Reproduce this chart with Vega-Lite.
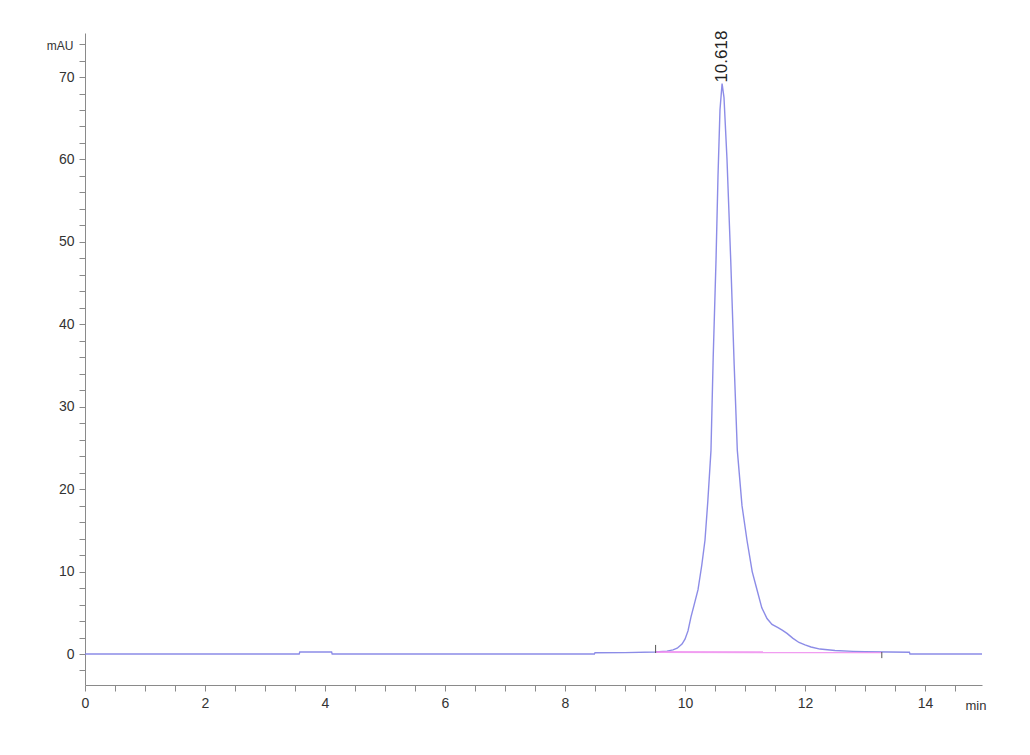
{
  "$schema": "https://vega.github.io/schema/vega-lite/v6.json",
  "width": 897,
  "height": 652,
  "autosize": {"type": "none"},
  "padding": {"left": 85, "top": 33, "right": 48, "bottom": 70},
  "background": "white",
  "config": {
    "view": {"stroke": null},
    "font": "Liberation Sans",
    "axis": {
      "domainColor": "#8a8a8a",
      "tickColor": "#8a8a8a",
      "labelColor": "#333333",
      "labelFont": "Liberation Sans",
      "labelFontSize": 14,
      "titleFont": "Liberation Sans",
      "titleFontWeight": "normal",
      "titleColor": "#333333",
      "grid": false
    }
  },
  "datasets": {
    "trace": [
      {"t": 0, "v": 0}, {"t": 3.57, "v": 0}, {"t": 3.58, "v": 0.25}, {"t": 4.11, "v": 0.25}, {"t": 4.12, "v": 0},
      {"t": 8.49, "v": 0}, {"t": 8.5, "v": 0.15}, {"t": 9.0, "v": 0.17}, {"t": 9.5, "v": 0.25},
      {"t": 9.7, "v": 0.35}, {"t": 9.8, "v": 0.5}, {"t": 9.87, "v": 0.7}, {"t": 9.95, "v": 1.2},
      {"t": 10.0, "v": 1.8}, {"t": 10.05, "v": 2.8}, {"t": 10.1, "v": 4.5}, {"t": 10.15, "v": 5.9},
      {"t": 10.217, "v": 7.8}, {"t": 10.28, "v": 10.8}, {"t": 10.333, "v": 13.8}, {"t": 10.38, "v": 18.5},
      {"t": 10.433, "v": 24.7}, {"t": 10.47, "v": 36}, {"t": 10.517, "v": 47.8}, {"t": 10.55, "v": 58},
      {"t": 10.583, "v": 66}, {"t": 10.618, "v": 69.2}, {"t": 10.65, "v": 67.5}, {"t": 10.7, "v": 60},
      {"t": 10.762, "v": 47.8}, {"t": 10.82, "v": 35}, {"t": 10.872, "v": 24.7}, {"t": 10.95, "v": 18},
      {"t": 11.033, "v": 13.8}, {"t": 11.12, "v": 10}, {"t": 11.2, "v": 7.8}, {"t": 11.28, "v": 5.6},
      {"t": 11.367, "v": 4.3}, {"t": 11.45, "v": 3.6}, {"t": 11.55, "v": 3.2}, {"t": 11.62, "v": 2.9},
      {"t": 11.7, "v": 2.5}, {"t": 11.8, "v": 1.9}, {"t": 11.9, "v": 1.4}, {"t": 12.0, "v": 1.1},
      {"t": 12.1, "v": 0.85}, {"t": 12.25, "v": 0.6}, {"t": 12.5, "v": 0.42}, {"t": 12.8, "v": 0.32},
      {"t": 13.0, "v": 0.28}, {"t": 13.4, "v": 0.24}, {"t": 13.74, "v": 0.22}, {"t": 13.75, "v": 0.0},
      {"t": 14.95, "v": 0.0}
    ],
    "baseline": [
      {"t": 9.52, "v": 0.25}, {"t": 13.28, "v": 0.2}
    ],
    "ticks": [
      {"t": 9.51, "v": 0.12, "v2": 1.1},
      {"t": 13.28, "v": 0.24, "v2": -0.5}
    ],
    "peaks": [
      {"t": 10.618, "v": 69.2, "label": "10.618"}
    ]
  },
  "layer": [
    {
      "data": {"name": "trace"},
      "mark": {"type": "line", "color": "#8080e4", "strokeWidth": 1.4, "opacity": 0.9},
      "encoding": {
        "x": {
          "field": "t", "type": "quantitative",
          "scale": {"domain": [0, 14.95], "nice": false, "zero": false},
          "axis": {
            "values": [0, 0.5, 1, 1.5, 2, 2.5, 3, 3.5, 4, 4.5, 5, 5.5, 6, 6.5, 7, 7.5, 8, 8.5, 9, 9.5, 10, 10.5, 11, 11.5, 12, 12.5, 13, 13.5, 14, 14.5],
            "tickCount": 200,
            "format": "~g",
            "labelExpr": "datum.value % 2 === 0 ? datum.label : ''",
            "tickSize": 6,
            "labelPadding": 5,
            "labelFlush": false,
            "labelOverlap": false,
            "title": "min",
            "titleFontSize": 13,
            "titleX": 880,
            "titleY": 20,
            "titleAlign": "left",
            "titleBaseline": "middle",
            "titleAnchor": null
          }
        },
        "y": {
          "field": "v", "type": "quantitative",
          "scale": {"domain": [-3.76, 75.34], "nice": false, "zero": false},
          "axis": {
            "values": [-2, 0, 2, 4, 6, 8, 10, 12, 14, 16, 18, 20, 22, 24, 26, 28, 30, 32, 34, 36, 38, 40, 42, 44, 46, 48, 50, 52, 54, 56, 58, 60, 62, 64, 66, 68, 70, 72, 74],
            "tickCount": 200,
            "format": "~g",
            "labelExpr": "datum.value % 10 === 0 ? datum.label : ''",
            "tickSize": 6,
            "labelPadding": 5,
            "labelOverlap": false,
            "labelFlush": false,
            "title": "mAU",
            "titleFontSize": 12,
            "titleAngle": 0,
            "titleX": -12,
            "titleY": 12,
            "titleAlign": "right",
            "titleBaseline": "middle",
            "titleAnchor": null
          }
        }
      }
    },
    {
      "data": {"name": "baseline"},
      "mark": {"type": "line", "color": "#ee8cee", "strokeWidth": 2, "opacity": 0.85},
      "encoding": {
        "x": {"field": "t", "type": "quantitative"},
        "y": {"field": "v", "type": "quantitative"}
      }
    },
    {
      "data": {"name": "ticks"},
      "mark": {"type": "rule", "color": "#555555", "strokeWidth": 1},
      "encoding": {
        "x": {"field": "t", "type": "quantitative"},
        "y": {"field": "v", "type": "quantitative"},
        "y2": {"field": "v2"}
      }
    },
    {
      "data": {"name": "peaks"},
      "mark": {"type": "text", "angle": 270, "align": "left", "baseline": "middle", "dx": 1, "fontSize": 17, "color": "#222222", "font": "Liberation Sans"},
      "encoding": {
        "x": {"field": "t", "type": "quantitative"},
        "y": {"field": "v", "type": "quantitative"},
        "text": {"field": "label"}
      }
    }
  ]
}
